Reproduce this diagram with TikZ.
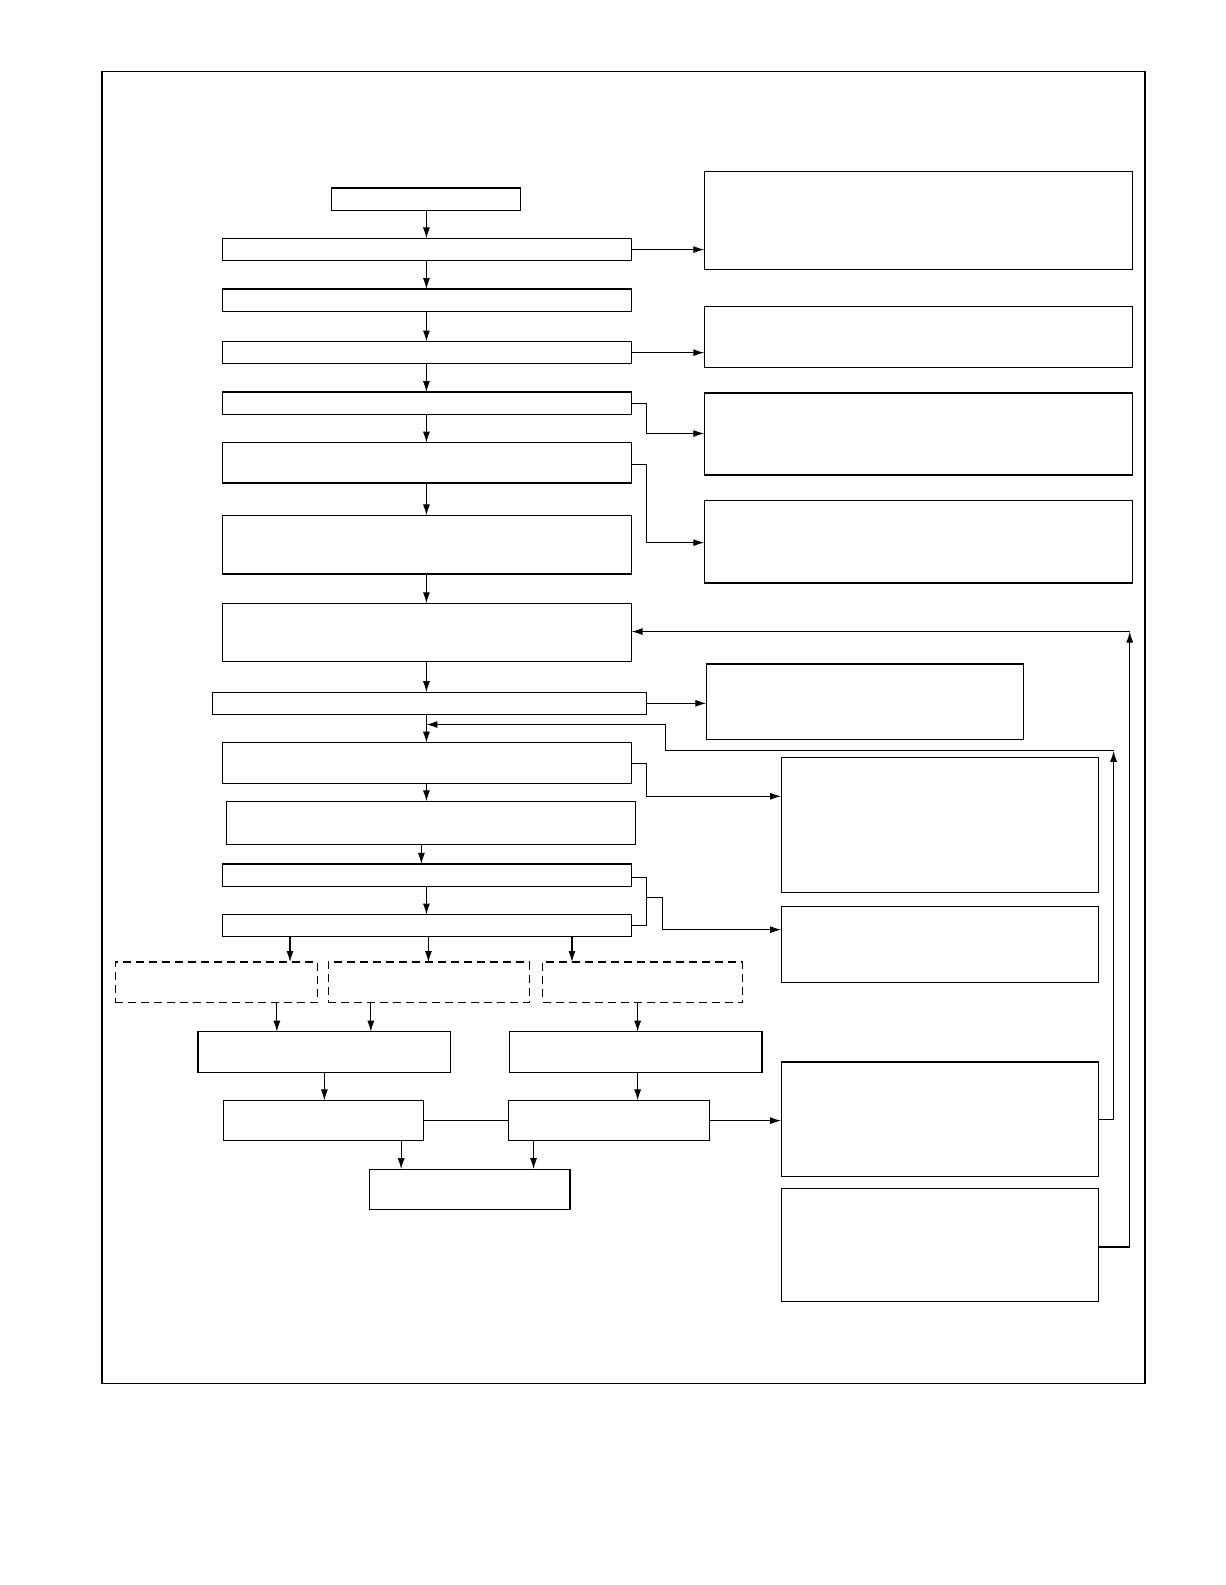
\documentclass[tikz,border=0pt]{standalone}
\usetikzlibrary{arrows.meta}
\newcommand{\bx}[6][boxs]{\node[#1,minimum width={(#5-#3)*1.0105pt},minimum height={(#6-#4)*1.0105pt}] (#2) at ({(#3+#5)/2},{(#4+#6)/2}) {};}
\begin{document}
\begin{tikzpicture}[x=1.0105pt,y=-1.0105pt,
  boxs/.style={draw,line width=1.2pt,rectangle,inner sep=0pt,outer sep=0pt},
  dbox/.style={boxs,dash pattern=on 8pt off 5pt},
  arr/.style={-{Latex[length=11pt,width=7pt]},line width=1.1pt},
  ln/.style={line width=1.1pt}]
\useasboundingbox (0,0) rectangle (1212.27,1568.53);
\draw[line width=1.2pt] (101,71) rectangle (1133,1369);
\bx{b1}{328}{186}{515}{208}
\bx{b2}{220}{236}{625}{258}
\bx{b3}{220}{286}{625}{308}
\bx{b4}{220}{338}{625}{360}
\bx{b5}{220}{388}{625}{410}
\bx{b6}{220}{438}{625}{478}
\bx{b7}{220}{510}{625}{568}
\bx{b8}{220}{597}{625}{655}
\bx{b9}{210}{685}{640}{707}
\bx{b10}{220}{735}{625}{775}
\bx{b11}{224}{793}{629}{836}
\bx{b12}{220}{855}{625}{877}
\bx{b13}{220}{905}{625}{927}
\bx[dbox]{d1}{114}{952}{314}{992}
\bx[dbox]{d2}{325}{952}{524}{992}
\bx[dbox]{d3}{537}{952}{735}{992}
\bx{c1}{196}{1021}{446}{1061}
\bx{c2}{504}{1021}{754}{1061}
\bx{e1}{221}{1089}{419}{1129}
\bx{e2}{503}{1089}{702}{1129}
\bx{f1}{366}{1157}{564}{1197}
\bx{r1}{697}{170}{1121}{267}
\bx{r2}{697}{303}{1121}{364}
\bx{r3}{697}{389}{1121}{470}
\bx{r4}{697}{495}{1121}{577}
\bx{r5}{699}{657}{1013}{732}
\bx{r6}{773}{750}{1087}{883}
\bx{r7}{773}{897}{1087}{972}
\bx{r8}{773}{1051}{1087}{1164}
\bx{r9}{773}{1176}{1087}{1288}
\foreach \a/\b in {b1/b2,b2/b3,b3/b4,b4/b5,b5/b6,b6/b7,b7/b8,b8/b9,b9/b10,b10/b11,b12/b13}
  \draw[arr] (\a.south -| 422,0) -- (\b.north -| 422,0);
\draw[arr] (b11.south -| 417,0) -- (b12.north -| 417,0);
\draw[arr] (b2.east) -- (b2.east -| r1.west);
\draw[arr] (b4.east) -- (b4.east -| r2.west);
\draw[arr] (625,399) -- (640,399) -- (640,429) -- (r3.west |- 0,429);
\draw[arr] (625,460) -- (640,460) -- (640,537) -- (r4.west |- 0,537);
\draw[arr] (b9.east) -- (b9.east -| r5.west);
\draw[arr] (625,756) -- (640,756) -- (640,788) -- (r6.west |- 0,788);
\draw[ln] (625,868) -- (640,868) -- (640,916) -- (625,916);
\draw[arr] (640,888) -- (656,888) -- (656,920) -- (r7.west |- 0,920);
\draw[arr] (287,927) -- (d1.north -| 287,0);
\draw[arr] (424,927) -- (d2.north -| 424,0);
\draw[arr] (566,927) -- (d3.north -| 566,0);
\draw[arr] (d1.south -| 274,0) -- (c1.north -| 274,0);
\draw[arr] (d2.south -| 367,0) -- (c1.north -| 367,0);
\draw[arr] (d3.south -| 631,0) -- (c2.north -| 631,0);
\draw[arr] (c1.south -| 321,0) -- (e1.north -| 321,0);
\draw[arr] (c2.south -| 631,0) -- (e2.north -| 631,0);
\draw[ln] (e1.east) -- (e2.west);
\draw[arr] (e2.east) -- (e2.east -| r8.west);
\draw[arr] (e1.south -| 397,0) -- (f1.north -| 397,0);
\draw[arr] (e2.south -| 528,0) -- (f1.north -| 528,0);
\draw[arr] (r8.east |- 0,1108) -- (1102,1108) -- (1102,743);
\draw[arr] (1102,743) -- (659,743) -- (659,717) -- (422,717);
\draw[arr] (r9.east |- 0,1234) -- (1118,1234) -- (1118,625);
\draw[arr] (1118,625) -- (b8.east |- 0,625);
\end{tikzpicture}
\end{document}
